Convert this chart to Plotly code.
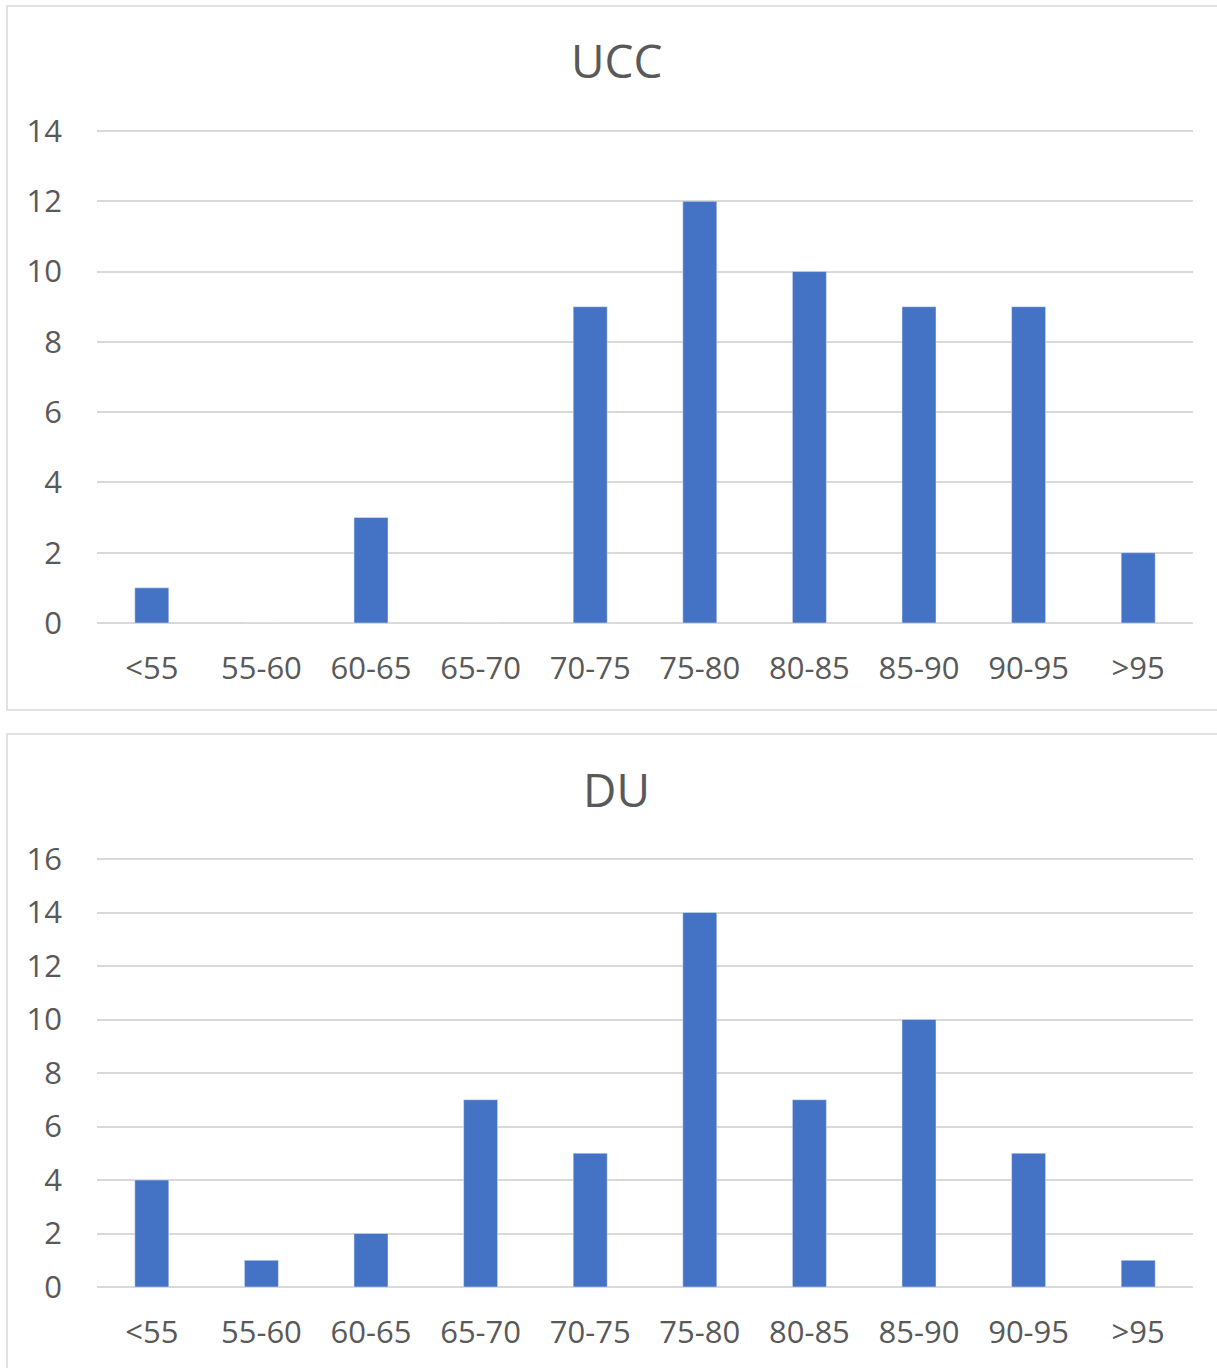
import plotly.graph_objects as go

categories = ["<55", "55-60", "60-65", "65-70", "70-75", "75-80", "80-85", "85-90", "90-95", ">95"]
ucc_counts = [1, 0, 3, 0, 9, 12, 10, 9, 9, 2]
du_counts = [4, 1, 2, 7, 5, 14, 7, 10, 5, 1]

W, H = 1217, 1368
BAR = "#4472C4"
GRID = "#D9D9D9"
TXT = "#595959"
FONT = "Open Sans"

fig = go.Figure()

fig.add_trace(go.Bar(x=categories, y=ucc_counts, marker_color=BAR, xaxis="x", yaxis="y"))
fig.add_trace(go.Bar(x=categories, y=du_counts, marker_color=BAR, xaxis="x2", yaxis="y2"))


def px_x(v):
    return v / W


def px_y(v):
    return 1 - v / H


x_dom = [px_x(97), px_x(1193)]
tick_font = dict(family=FONT, size=31, color=TXT)
HEADROOM_PX = 5  # keeps the top gridline inside the plot area


def x_axis(anchor):
    return dict(domain=x_dom, anchor=anchor, showgrid=False, showline=False, ticks="",
                zeroline=False, ticklabelstandoff=24, tickfont=tick_font, automargin=False)


def y_axis(anchor, top_val, y_top_px, y_zero_px):
    unit_px = (y_zero_px - y_top_px) / top_val
    extra = HEADROOM_PX / unit_px
    return dict(domain=[px_y(y_zero_px), px_y(y_top_px - HEADROOM_PX)], anchor=anchor,
                range=[0, top_val + extra], tickvals=list(range(0, top_val + 1, 2)),
                showgrid=True, gridcolor=GRID, gridwidth=1.5, zeroline=True,
                zerolinecolor=GRID, zerolinewidth=1.5, ticks="", ticklabelstandoff=34,
                tickfont=tick_font, automargin=False)


fig.update_layout(
    width=W, height=H,
    margin=dict(l=0, r=0, t=0, b=0, pad=0),
    paper_bgcolor="white", plot_bgcolor="white",
    showlegend=False,
    bargap=0.69,
    xaxis=x_axis("y"),
    yaxis=y_axis("x", 14, 131, 623),
    xaxis2=x_axis("y2"),
    yaxis2=y_axis("x2", 16, 859, 1287),
)

# Panel frames
for y0, y1 in [(6, 710), (734, 1380)]:
    fig.add_shape(type="rect", xref="paper", yref="paper",
                  x0=px_x(7), x1=px_x(1230), y0=px_y(y1), y1=px_y(y0),
                  line=dict(color=GRID, width=1.5), fillcolor="rgba(0,0,0,0)", layer="below")

# Panel titles
for text, yc in [("UCC", 60), ("DU", 789)]:
    fig.add_annotation(text=text, xref="paper", yref="paper", x=px_x(616), y=px_y(yc),
                       showarrow=False, xanchor="center", yanchor="middle",
                       font=dict(family=FONT, size=46, color=TXT))

fig.write_html("out.html")
